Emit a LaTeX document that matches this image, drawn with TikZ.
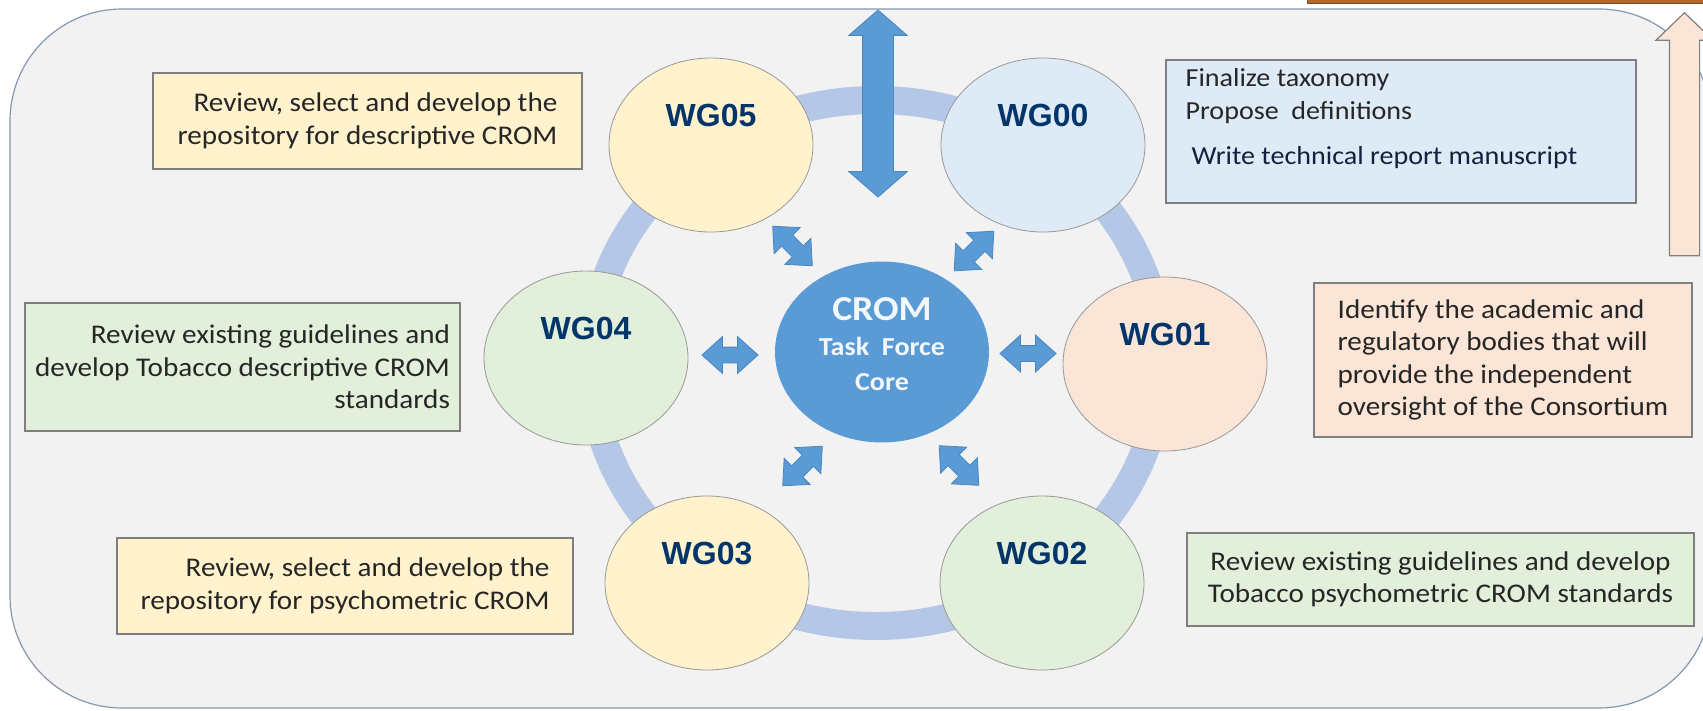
\documentclass[tikz,border=0pt]{standalone}
\usepackage{fontspec}
\setmainfont{Carlito}[FakeStretch=1.08]
\newfontfamily\wgfont{Liberation Sans}
\usetikzlibrary{shapes.geometric, shapes.arrows}

\definecolor{framefill}{HTML}{F2F2F2}
\definecolor{framedraw}{HTML}{8497B0}
\definecolor{ringblue}{HTML}{B4C7E7}
\definecolor{coreblue}{HTML}{5B9BD5}
\definecolor{arrowedge}{HTML}{4A86C0}
\definecolor{wgnavy}{HTML}{03356A}
\definecolor{boxedge}{HTML}{7F7F7F}
\definecolor{textgray}{HTML}{262626}
\definecolor{reportnavy}{HTML}{14213D}
\definecolor{yellowfill}{HTML}{FFF2CC}
\definecolor{bluefill}{HTML}{DEEBF7}
\definecolor{greenfill}{HTML}{E2EFDA}
\definecolor{peachfill}{HTML}{FBE5D6}
\definecolor{barbrown}{HTML}{B5652E}

\tikzstyle{wgnode} = [ellipse, draw=boxedge!80, line width=0.8pt, minimum width=204pt, minimum height=174pt, inner sep=0pt, text height=23pt, text depth=60pt, text=wgnavy, font=\wgfont\bfseries\fontsize{32}{38}\selectfont]
\tikzstyle{taskbox} = [rectangle, draw=boxedge, line width=1.2pt, inner sep=0pt, text=textgray, font=\fontsize{27}{32.5}\selectfont]
\tikzstyle{dblarrow} = [double arrow, fill=coreblue, draw=arrowedge, line width=0.8pt, inner xsep=0pt, inner ysep=7.5pt, minimum height=56pt, minimum width=36pt, double arrow head extend=10.5pt, double arrow tip angle=84]

\begin{document}
\begin{tikzpicture}[x=1pt, y=-1pt]
\useasboundingbox (0,0) rectangle (1703,710);
\clip (0,0) rectangle (1703,710);

% frame
\draw [fill=framefill, draw=framedraw, line width=1.2pt, rounded corners=112pt] (10,9) rectangle (1711,708);
\draw [fill=barbrown, draw=barbrown!70!black, line width=0.8pt] (1307,-2) rectangle (1705,3.5);
\node (uparrow) [single arrow, rotate=90, fill=peachfill, draw=boxedge, line width=1.2pt, inner xsep=0pt, inner ysep=14.5pt, minimum height=243pt, minimum width=56pt, single arrow head extend=13.5pt, single arrow tip angle=92] at (1684.5,141.5) {};

% ring of working groups
\draw [ringblue, line width=28pt] (876,363) ellipse (285 and 263);
\node (toplink) [dblarrow, rotate=90, inner ysep=15pt, minimum height=187pt, minimum width=58pt, double arrow head extend=14pt, double arrow tip angle=98] at (878,103.5) {};

\node (wg05) [wgnode, fill=yellowfill] at (711,145) {WG05};
\node (wg00) [wgnode, fill=bluefill] at (1043,145) {WG00};
\node (wg04) [wgnode, fill=greenfill] at (586,358) {WG04};
\node (wg01) [wgnode, fill=peachfill] at (1165,364) {WG01};
\node (wg03) [wgnode, fill=yellowfill] at (707,583) {WG03};
\node (wg02) [wgnode, fill=greenfill] at (1042,583) {WG02};

\node (crom) [ellipse, fill=coreblue, minimum width=214pt, minimum height=181pt, inner sep=0pt, align=center, text=white!92!coreblue, font=\bfseries\fontsize{26}{35}\selectfont] at (882,352) {{\fontsize{35}{35}\selectfont CROM}\\ Task~~Force\\ Core\rule[-16pt]{0pt}{16pt}};

% links to the core
\node (leftlink) [dblarrow] at (730,355) {};
\node (rightlink) [dblarrow] at (1028,353.5) {};
\node (ullink) [dblarrow, rotate=-45] at (792.5,246) {};
\node (urlink) [dblarrow, rotate=45] at (974,251) {};
\node (lllink) [dblarrow, rotate=45] at (802.5,466) {};
\node (lrlink) [dblarrow, rotate=-45] at (959,465.5) {};

% tasks
\node (wg05box) [taskbox, fill=yellowfill, minimum width=429pt, minimum height=96pt, align=right] at (367.5,121) {Review, select and develop the\\ repository for descriptive CROM};
\node (wg00box) [taskbox, fill=bluefill, minimum width=470pt, minimum height=143pt] at (1401,131.5) {};
\node (wg00text) [anchor=north west, inner sep=0pt, align=left, text=textgray, font=\fontsize{26}{33}\selectfont] at ([xshift=20pt, yshift=-9pt]wg00box.north west) {Finalize taxonomy\\ Propose~~definitions\\[12pt] \hspace*{6pt}{\color{reportnavy}Write technical report manuscript}};
\node (wg04box) [taskbox, fill=greenfill, minimum width=435pt, minimum height=128pt, align=right] at (242.5,367) {Review existing guidelines and\\ develop Tobacco descriptive CROM\\ standards};
\node (wg01box) [taskbox, fill=peachfill, minimum width=378pt, minimum height=154pt, align=left] at (1503,360) {Identify the academic and\\ regulatory bodies that will\\ provide the independent\\ oversight of the Consortium};
\node (wg03box) [taskbox, fill=yellowfill, minimum width=456pt, minimum height=96pt, align=right] at (345,586) {Review, select and develop the\\ repository for psychometric CROM};
\node (wg02box) [taskbox, fill=greenfill, minimum width=507pt, minimum height=93pt, align=center] at (1440.5,579.5) {Review existing guidelines and develop\\ Tobacco psychometric CROM standards};
\end{tikzpicture}
\end{document}
